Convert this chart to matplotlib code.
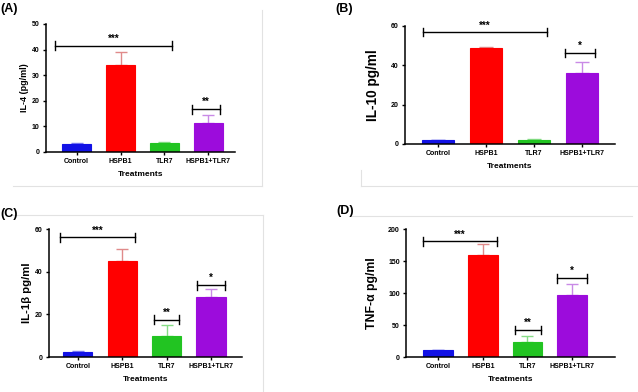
import matplotlib.pyplot as plt
from matplotlib.lines import Line2D
import numpy as np

plt.rcParams['font.family'] = ['Liberation Sans', 'DejaVu Sans']
plt.rcParams['font.weight'] = 'bold'

# data
treatments = ["Control", "HSPB1", "TLR7", "HSPB1+TLR7"]

il4_mean = [3.2, 33.8, 3.5, 11.5]
il4_err = [0.3, 5.2, 0.3, 3.0]
il10_mean = [1.8, 49.0, 2.0, 36.3]
il10_err = [0.3, 0.2, 0.3, 5.6]
il1b_mean = [2.3, 45.0, 9.8, 28.0]
il1b_err = [0.3, 5.6, 5.4, 3.9]
tnfa_mean = [10.4, 160.0, 24.0, 97.4]
tnfa_err = [0.8, 16.5, 8.8, 16.6]

# significance brackets: (from, to, height, label)
il4_sig = [(-0.5, 2.18, 41.5, "***"), (2.64, 3.27, 16.7, "**")]
il10_sig = [(-0.31, 2.27, 56.8, "***"), (2.65, 3.27, 46.4, "*")]
il1b_sig = [(-0.41, 1.29, 56.1, "***"), (1.72, 2.28, 17.5, "**"), (2.69, 3.32, 33.7, "*")]
tnfa_sig = [(-0.34, 1.32, 180.7, "***"), (1.72, 2.30, 42.2, "**"), (2.66, 3.33, 123.4, "*")]

bar_colors = ["#1212e6", "#ff0000", "#22c422", "#9c0cdc"]
err_colors = ["#7a7af0", "#e08a8a", "#86dc86", "#c98ae6"]

W, H = 638, 392
fig = plt.figure(figsize=(W / 100, H / 100), dpi=100)


def px_axes(x0, x1, y_top, y_bot):
    return fig.add_axes([x0 / W, 1 - y_bot / H, (x1 - x0) / W, (y_bot - y_top) / H])


def draw_panel(ax, means, errs, sig, ymax, ystep, ylabel, ylab_size, ylab_pad, xlim, bw, cap):
    x = np.arange(len(treatments))
    ax.bar(x, means, width=bw, color=bar_colors, edgecolor=bar_colors, linewidth=0.8, zorder=2)
    for xi, m, e, c in zip(x, means, errs, err_colors):
        ax.errorbar(xi, m, yerr=[[0], [e]], fmt="none", ecolor=c, elinewidth=1.0,
                    capsize=cap, capthick=1.0, zorder=1)
    tick_h = ymax * 0.035
    for a, b, h, lab in sig:
        ax.plot([a, b], [h, h], color="black", lw=1.0, clip_on=False, zorder=3)
        ax.plot([a, a], [h - tick_h, h + tick_h], color="black", lw=1.0, clip_on=False, zorder=3)
        ax.plot([b, b], [h - tick_h, h + tick_h], color="black", lw=1.0, clip_on=False, zorder=3)
        ax.text((a + b) / 2, h + ymax * 0.015, lab, ha="center", va="bottom",
                fontsize=7, fontweight="bold")
    ax.set_xlim(*xlim)
    ax.set_ylim(0, ymax)
    ax.set_yticks(np.arange(0, ymax + 1, ystep))
    ax.set_xticks(x, labels=treatments)
    ax.tick_params(axis="both", labelsize=5, width=1.0, length=2.5, pad=2)
    for t in ax.get_xticklabels() + ax.get_yticklabels():
        t.set_fontweight("bold")
    ax.spines["top"].set_visible(False)
    ax.spines["right"].set_visible(False)
    ax.spines["left"].set_linewidth(1.1)
    ax.spines["bottom"].set_linewidth(1.1)
    ax.set_ylabel(ylabel, fontsize=ylab_size, fontweight="bold", labelpad=ylab_pad)
    ax.set_xlabel("Treatments", fontsize=6, fontweight="bold", labelpad=4)


axA = px_axes(46, 235, 24, 152)
draw_panel(axA, il4_mean, il4_err, il4_sig, 50, 10, "IL-4 (pg/ml)", 6.5, 2,
           (-0.70, 3.61), 0.66, 4.5)
axB = px_axes(405, 615, 26, 144)
draw_panel(axB, il10_mean, il10_err, il10_sig, 60, 20, "IL-10 pg/ml", 9.8, 8,
           (-0.69, 3.69), 0.67, 5)
axC = px_axes(49, 242, 229, 357)
draw_panel(axC, il1b_mean, il1b_err, il1b_sig, 60, 20, "IL-1β pg/ml", 8.2, 2,
           (-0.65, 3.70), 0.66, 4.5)
axD = px_axes(406, 615, 229, 357)
draw_panel(axD, tnfa_mean, tnfa_err, tnfa_sig, 200, 50, "TNF-α pg/ml", 8.8, 7,
           (-0.72, 3.96), 0.66, 4.5)

# panel letters
for lab, (px, py) in zip(["(A)", "(B)", "(C)", "(D)"],
                         [(0, 9), (335, 9), (0, 214), (336, 211)]):
    fig.text(px / W, 1 - py / H, lab, fontsize=9, fontweight="bold", va="center", ha="left")

# faint panel borders
frame_lines = [
    [(13, 262), (186, 186)], [(262, 262), (10, 186)],
    [(361, 638), (186, 186)], [(361, 361), (170, 186)],
    [(13, 263), (215, 215)], [(263, 263), (215, 392)],
    [(350, 632), (216, 216)],
]
for xs, ys in frame_lines:
    fig.add_artist(Line2D([v / W for v in xs], [1 - v / H for v in ys],
                          color="#e2e2e2", lw=0.8))

fig.savefig("out.png", dpi=100)
